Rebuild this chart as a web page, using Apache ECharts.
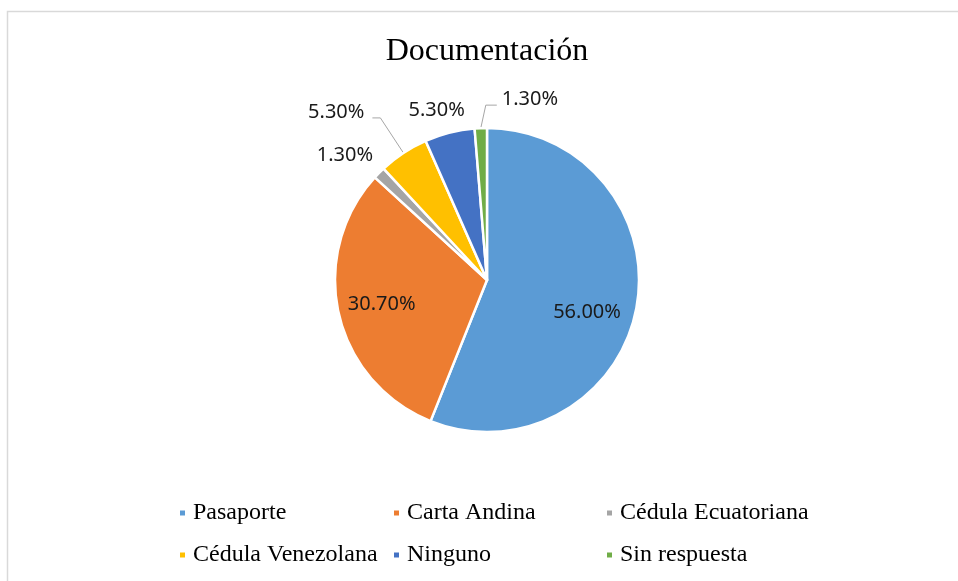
<!DOCTYPE html>
<html>
<head>
<meta charset="utf-8">
<title>Documentación</title>
<script src="https://cdn.jsdelivr.net/npm/echarts@6/dist/echarts.min.js"></script>
<style>
  html, body { margin: 0; padding: 0; background: #fff; }
  #container { width: 958px; height: 581px; }
</style>
</head>
<body>
<div id="container"></div>
<script>
// datos del gráfico
const categories = ['Pasaporte', 'Carta Andina', 'Cédula Ecuatoriana', 'Cédula Venezolana', 'Ninguno', 'Sin respuesta']
const values = [56.0, 30.7, 1.3, 5.3, 5.3, 1.3]
const colors = ['#5B9BD5', '#ED7D31', '#A5A5A5', '#FFC000', '#4472C4', '#70AD47']
// columnas de la leyenda (2 filas x 3 columnas)
const legendCol1 = ['Pasaporte', 'Cédula Venezolana']
const legendCol2 = ['Carta Andina', 'Ninguno']
const legendCol3 = ['Cédula Ecuatoriana', 'Sin respuesta']

const labelFont = 'Noto Sans'
const serif = 'Liberation Serif'
const pieCenter = [487, 280]
const pieRadius = 152

function fmt(params) {
    return params.value.toFixed(2) + '%'
}

// serie visible: porciones + etiquetas externas de las porciones pequeñas
const outerData = categories.map(function (name, i) {
    const small = i >= 2
    const item = {
        name: name,
        value: values[i],
        itemStyle: { color: colors[i] },
        label: { show: small },
        labelLine: { show: small }
    }
    // sin línea guía visible para estas dos
    if (i === 2 || i === 4) {
        item.labelLine.lineStyle = { opacity: 0 }
    }
    return item
})

// serie transparente solo para colocar las etiquetas internas
const innerData = categories.map(function (name, i) {
    return {
        name: name,
        value: values[i],
        label: { show: i < 2 }
    }
})

function legendColumn(data, left) {
    return {
        data: data,
        orient: 'vertical',
        left: left,
        top: 501,
        padding: 0,
        icon: 'rect',
        itemWidth: 7,
        itemHeight: 7,
        itemGap: 18,
        selectedMode: false,
        textStyle: {
            fontFamily: serif,
            fontSize: 24,
            lineHeight: 24,
            color: '#000',
            padding: [0, 0, 0, 2]
        }
    }
}

const chart = echarts.init(document.getElementById('container'))
chart.setOption({
    backgroundColor: '#fff',
    animation: false,
    graphic: [{
        type: 'rect',
        silent: true,
        z: -10,
        shape: { x: 7.5, y: 11.5, width: 980, height: 620 },
        style: { fill: 'none', stroke: '#d9d9d9', lineWidth: 1.5 }
    }],
    title: {
        text: 'Documentación',
        left: pieCenter[0],
        top: 36,
        padding: 0,
        textAlign: 'center',
        textStyle: {
            fontFamily: serif,
            fontSize: 32,
            fontWeight: 'normal',
            color: '#000'
        }
    },
    legend: [
        legendColumn(legendCol1, 178),
        legendColumn(legendCol2, 392),
        legendColumn(legendCol3, 605)
    ],
    series: [
        {
            name: 'Documentación',
            type: 'pie',
            center: pieCenter,
            radius: [0, pieRadius],
            startAngle: 90,
            clockwise: true,
            avoidLabelOverlap: false,
            emphasis: { disabled: true },
            itemStyle: { borderColor: '#fff', borderWidth: 2.5 },
            label: {
                position: 'outside',
                formatter: fmt,
                fontFamily: labelFont,
                fontSize: 20,
                color: '#1a1a1a',
                distanceToLabelLine: 8
            },
            labelLine: {
                length: 42,
                length2: 8,
                smooth: false,
                lineStyle: { color: '#a6a6a6', width: 1 }
            },
            // ajustes finos de etiquetas a partir de los puntos que calcula la librería
            labelLayout: function (p) {
                const pts = p.labelLinePoints
                if (!pts) return {}
                const e = pts[0]
                if (p.dataIndex === 2) {
                    return { x: e[0] - 6, y: e[1] - 18, align: 'right', verticalAlign: 'middle', labelLinePoints: pts }
                }
                if (p.dataIndex === 3) {
                    return { x: pts[2][0] - 8, y: pts[2][1] - 6, align: 'right', verticalAlign: 'middle', labelLinePoints: pts }
                }
                if (p.dataIndex === 4) {
                    return { x: e[0] - 13, y: e[1] - 22, align: 'center', verticalAlign: 'middle', labelLinePoints: pts }
                }
                if (p.dataIndex === 5) {
                    const p1 = [e[0] + 5, e[1] - 23]
                    const p2 = [p1[0] + 11, p1[1]]
                    return { x: p2[0] + 5, y: p2[1] - 6, align: 'left', verticalAlign: 'middle', labelLinePoints: [e, p1, p2] }
                }
                return {}
            },
            data: outerData
        },
        {
            name: 'etiquetas',
            type: 'pie',
            silent: true,
            center: pieCenter,
            radius: [58, pieRadius],
            startAngle: 90,
            clockwise: true,
            emphasis: { disabled: true },
            itemStyle: { color: 'rgba(0,0,0,0)', borderWidth: 0 },
            label: {
                position: 'inside',
                formatter: fmt,
                fontFamily: labelFont,
                fontSize: 20,
                color: '#1a1a1a'
            },
            labelLine: { show: false },
            labelLayout: function (p) {
                if (p.dataIndex === 0) return { dx: -6, dy: 12 }
                return {}
            },
            data: innerData
        }
    ]
})
</script>
</body>
</html>
